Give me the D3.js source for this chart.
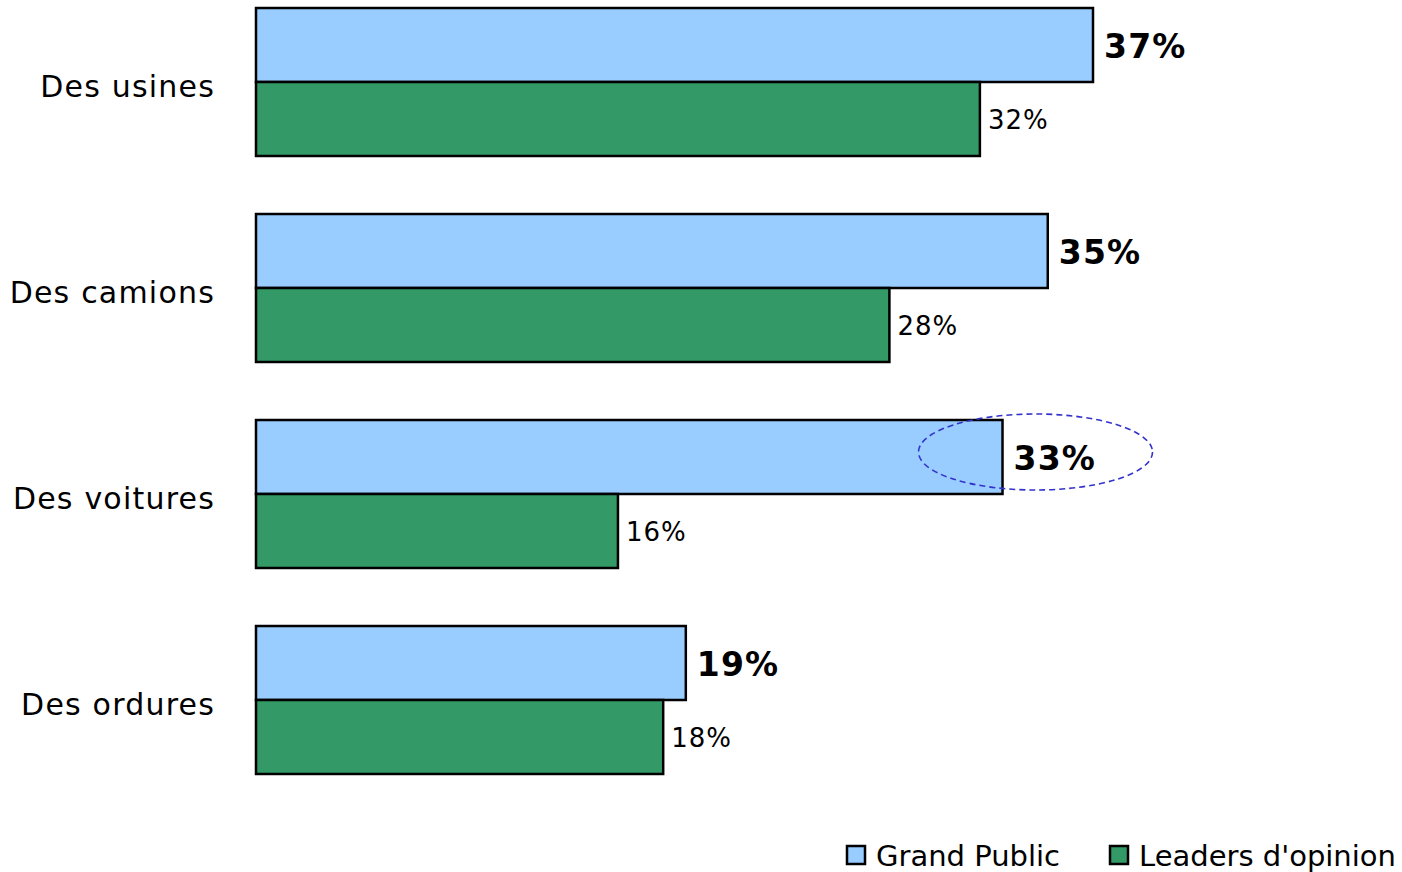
<!DOCTYPE html>
<html>
<head>
<meta charset="utf-8">
<script src="https://cdn.jsdelivr.net/npm/d3@7"></script>
<style>
html,body{margin:0;padding:0;background:#fff;}
svg{display:block;font-family:"DejaVu Sans",Verdana,sans-serif;}
</style>
</head>
<body>
<svg id="chart" width="1402" height="872"></svg>
<script>
const categories = ["Des usines", "Des camions", "Des voitures", "Des ordures"];
const seriesNames = ["Grand Public", "Leaders d'opinion"];
const grandPublic = [37, 35, 33, 19];
const leaders = [32, 28, 16, 18];
const colors = ["#99ccff", "#339966"];
const highlightIndex = 2;

const svg = d3.select("#chart");
const x = d3.scaleLinear().domain([0, 37]).range([256, 1093]);
const y = d3.scaleBand().domain(categories).range([-21, 803]).paddingInner(0.2816).paddingOuter(0.1408);
const sub = d3.scaleBand().domain(seriesNames).range([0, y.bandwidth()]);

const data = categories.map((c, i) => ({cat: c, vals: [grandPublic[i], leaders[i]]}));

const g = svg.append("g");
const groups = g.selectAll("g.grp").data(data).join("g")
  .attr("class", "grp")
  .attr("transform", d => `translate(0,${y(d.cat)})`);

groups.selectAll("rect").data(d => d.vals.map((v, k) => ({v, k}))).join("rect")
  .attr("x", x(0))
  .attr("y", d => sub(seriesNames[d.k]))
  .attr("width", d => x(d.v) - x(0))
  .attr("height", sub.bandwidth())
  .attr("fill", d => colors[d.k])
  .attr("stroke", "#000")
  .attr("stroke-width", 2.5);

groups.selectAll("text.val").data(d => d.vals.map((v, k) => ({v, k}))).join("text")
  .attr("class", "val")
  .attr("x", d => x(d.v) + (d.k === 0 ? 11 : 8))
  .attr("y", d => sub(seriesNames[d.k]) + sub.bandwidth() / 2 + (d.k === 0 ? 1.5 : 0.5))
  .attr("dy", "0.36em")
  .attr("font-size", d => d.k === 0 ? 33 : 26)
  .attr("letter-spacing", d => d.k === 0 ? 1.2 : 1)
  .attr("font-weight", d => d.k === 0 ? "bold" : "normal")
  .attr("fill", "#000")
  .text(d => d.v + "%");

// category labels
g.selectAll("text.cat").data(categories).join("text")
  .attr("class", "cat")
  .attr("x", 215)
  .attr("y", d => y(d) + y.bandwidth() / 2 + 4)
  .attr("dy", "0.36em")
  .attr("text-anchor", "end")
  .attr("font-size", 30)
  .attr("letter-spacing", 1.2)
  .text(d => d);

// highlight ellipse
const hc = categories[highlightIndex];
svg.append("ellipse")
  .attr("cx", x(grandPublic[highlightIndex]) + 33)
  .attr("cy", y(hc) + sub.bandwidth() / 2 - 5)
  .attr("rx", 117)
  .attr("ry", 38)
  .attr("fill", "none")
  .attr("stroke", "#3333cc")
  .attr("stroke-width", 1.6)
  .attr("stroke-dasharray", "6,4");

// legend
const legendItems = [{name: seriesNames[0], x: 847, c: colors[0]}, {name: seriesNames[1], x: 1110, c: colors[1]}];
const lg = svg.append("g");
legendItems.forEach(it => {
  lg.append("rect").attr("x", it.x).attr("y", 846).attr("width", 18).attr("height", 18)
    .attr("fill", it.c).attr("stroke", "#000").attr("stroke-width", 2.5);
  lg.append("text").attr("x", it.x + 29).attr("y", 856).attr("dy", "0.36em")
    .attr("font-size", 29).text(it.name);
});
</script>
</body>
</html>
